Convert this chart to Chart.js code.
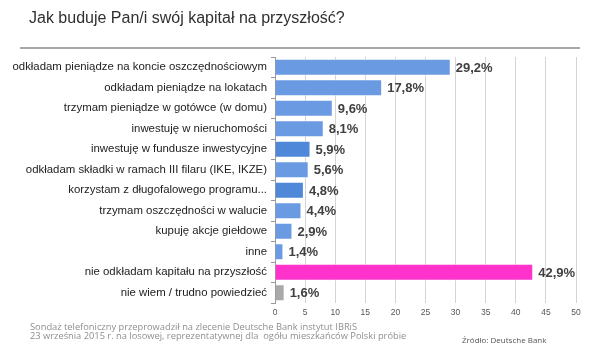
<!DOCTYPE html>
<html>
<head>
<meta charset="utf-8">
<script src="https://cdn.jsdelivr.net/npm/chart.js@4.4.1/dist/chart.umd.min.js"></script>
<style>
  html, body { margin: 0; padding: 0; background: #fff; }
  #wrap { position: relative; width: 600px; height: 354px; overflow: hidden; }
  #chart { position: absolute; left: 0; top: 0; }
  .txt { position: absolute; font-family: Arial, "Liberation Sans", sans-serif; white-space: nowrap; }
  #title { left: 29px; top: 9px; font-size: 16px; color: #303030; }
  #rule { position: absolute; left: 20px; top: 47px; width: 560px; height: 2px; background: #a8a8a8; }
  #note { left: 30px; top: 322px; font-family: "Open Sans", sans-serif; font-size: 9.3px; line-height: 9px; color: #8f8f8f; }
  #src { left: 462px; top: 334px; font-family: "Open Sans", sans-serif; font-size: 8px; color: #555; }
</style>
</head>
<body>
<div id="wrap">
  <canvas id="chart" width="600" height="354"></canvas>
  <div id="title" class="txt">Jak buduje Pan/i swój kapitał na przyszłość?</div>
  <div id="rule"></div>
  <div id="note" class="txt">Sondaż telefoniczny przeprowadził na zlecenie Deutsche Bank instytut IBRiS<br>23 września 2015 r. na losowej, reprezentatywnej dla&nbsp; ogółu mieszkańców Polski próbie</div>
  <div id="src" class="txt">Źródło: Deutsche Bank</div>
</div>
<script>
// odpowiedzi (kategorie)
const categories = [
  'odkładam pieniądze na koncie oszczędnościowym',
  'odkładam pieniądze na lokatach',
  'trzymam pieniądze w gotówce (w domu)',
  'inwestuję w nieruchomości',
  'inwestuję w fundusze inwestycyjne',
  'odkładam składki w ramach III filaru (IKE, IKZE)',
  'korzystam z długofalowego programu...',
  'trzymam oszczędności w walucie',
  'kupuję akcje giełdowe',
  'inne',
  'nie odkładam kapitału na przyszłość',
  'nie wiem / trudno powiedzieć'
];
// wartości w %
const values = [29.2, 17.8, 9.6, 8.1, 5.9, 5.6, 4.8, 4.4, 2.9, 1.4, 42.9, 1.6];
const barColors = [
  '#6a9be2', '#6a9be2', '#6a9be2', '#6a9be2', '#4f88d8', '#6a9be2',
  '#4f88d8', '#6a9be2', '#6a9be2', '#6a9be2', '#ff33cc', '#a9a9a9'
];
const xTicks = [0, 5, 10, 15, 20, 25, 30, 35, 40, 45, 50];

const fmt = v => v.toFixed(1).replace('.', ',') + '%';

// etykiety wartości przy końcu słupka
const valueLabels = {
  id: 'valueLabels',
  afterDatasetsDraw(chart) {
    const ctx = chart.ctx;
    const meta = chart.getDatasetMeta(0);
    ctx.save();
    ctx.font = 'bold 13px Arial, "Liberation Sans", sans-serif';
    ctx.fillStyle = '#404040';
    ctx.textAlign = 'left';
    ctx.textBaseline = 'middle';
    meta.data.forEach((bar, i) => {
      ctx.fillText(fmt(values[i]), bar.x + 5, bar.y + 1);
    });
    ctx.restore();
  }
};

new Chart(document.getElementById('chart'), {
  type: 'bar',
  data: {
    labels: categories,
    datasets: [{
      data: values,
      backgroundColor: barColors,
      borderColor: 'rgba(255,255,255,0.6)',
      borderWidth: 1,
      categoryPercentage: 1,
      barPercentage: 0.84
    }]
  },
  options: {
    indexAxis: 'y',
    responsive: false,
    animation: false,
    layout: { padding: { top: 57, right: 24, left: 0, bottom: 0 } },
    scales: {
      x: {
        min: 0, max: 50,
        afterBuildTicks: s => { s.ticks = xTicks.map(v => ({ value: v })); },
        afterFit: s => { s.height = 51; },
        grid: { color: '#d4d4d4', drawTicks: false },
        border: { display: false },
        ticks: { color: '#555', padding: 5, font: { size: 8.5, family: 'Arial' } }
      },
      y: {
        afterFit: s => { s.width = 275; },
        grid: { drawOnChartArea: false, tickLength: 4, color: '#999' },
        border: { color: '#999' },
        ticks: { color: '#222', padding: 4, font: { size: 11.4, family: 'Arial' } }
      }
    },
    plugins: {
      legend: { display: false },
      tooltip: { enabled: false }
    }
  },
  plugins: [valueLabels]
});
</script>
</body>
</html>
